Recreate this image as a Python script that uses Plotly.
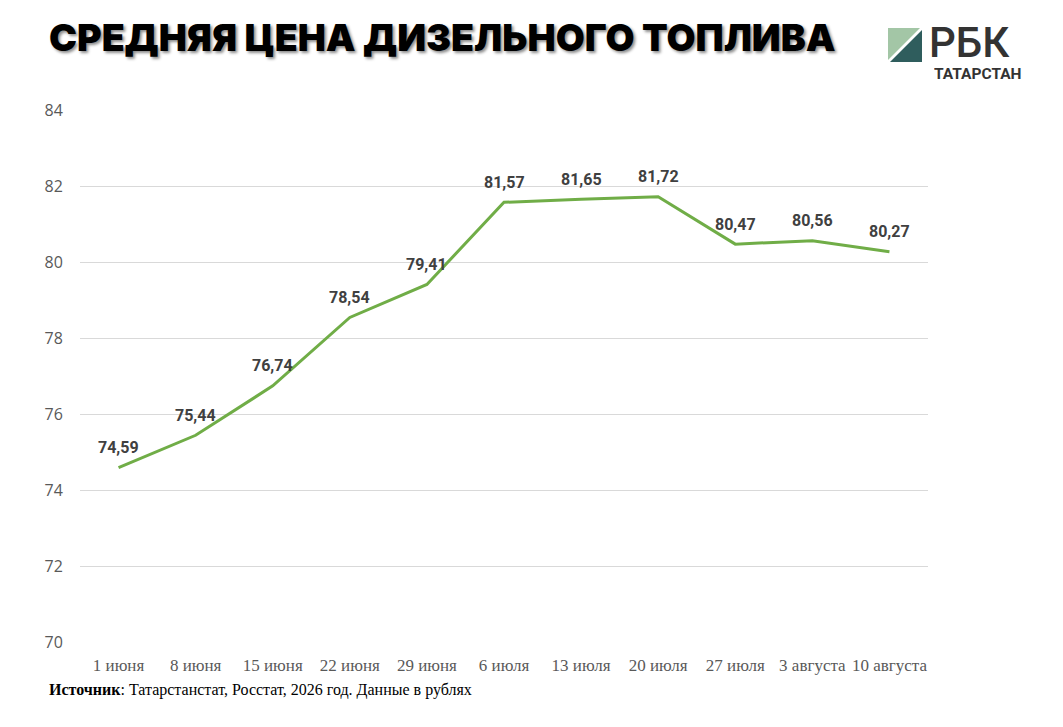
import plotly.graph_objects as go

# --- data ---
dates = ['1 июня', '8 июня', '15 июня', '22 июня', '29 июня', '6 июля',
         '13 июля', '20 июля', '27 июля', '3 августа', '10 августа']
prices = [74.59, 75.44, 76.74, 78.54, 79.41, 81.57,
          81.65, 81.72, 80.47, 80.56, 80.27]
y_ticks = [70, 72, 74, 76, 78, 80, 82, 84]

# the page puts the figure 8px in from the top-left corner
OFF = 8
W, H = 1063 - OFF, 727 - OFF
ML, MR, MT, MB = 80 - OFF, 135, 110 - OFF, 85


def px(x, y):
    """page pixel position -> paper coords"""
    x, y = x - OFF, y - OFF
    pw = W - ML - MR
    ph = H - MT - MB
    return (x - ML) / pw, (H - MB - y) / ph


labels = ['{:.2f}'.format(v).replace('.', ',') for v in prices]

fig = go.Figure(go.Scatter(
    x=dates, y=prices,
    mode='lines',
    line=dict(color='#70ad47', width=3),
    hoverinfo='skip',
))

for d, v, t in zip(dates, prices, labels):
    fig.add_annotation(
        x=d, y=v, text=t, showarrow=False, yshift=20,
        font=dict(family='Roboto', size=16, color='#404040', weight='bold'),
    )

fig.update_layout(
    width=W, height=H,
    margin=dict(l=ML, r=MR, t=MT, b=MB),
    paper_bgcolor='white',
    plot_bgcolor='white',
    showlegend=False,
)
fig.update_xaxes(
    type='category',
    range=[-0.5, len(dates) - 0.5],
    showgrid=False, showline=False, zeroline=False,
    ticks='outside', ticklen=8, tickcolor='rgba(0,0,0,0)',
    tickfont=dict(family='Liberation Serif', size=17, color='#595959'),
)
fig.update_yaxes(
    range=[70, 84],
    tickvals=y_ticks,
    showgrid=True, gridcolor='#d9d9d9', gridwidth=1,
    zeroline=False, showline=False,
    ticks='outside', ticklen=13, tickcolor='rgba(0,0,0,0)',
    tickfont=dict(family='Open Sans', size=16, color='#595959'),
)

# title with a soft shadow
sx, sy = px(47, 38)
fig.add_annotation(
    x=sx, y=sy, xref='paper', yref='paper',
    xanchor='left', yanchor='middle', showarrow=False,
    text='СРЕДНЯЯ ЦЕНА ДИЗЕЛЬНОГО ТОПЛИВА',
    font=dict(family='Inter', size=37.5, color='#000000', weight=900,
              shadow='2px 2px 3px rgba(0,0,0,0.45)'),
)

# source line
sx, sy = px(47, 690)
fig.add_annotation(
    x=sx, y=sy, xref='paper', yref='paper',
    xanchor='left', yanchor='middle', showarrow=False,
    text='<b>Источник</b>: Татарстанстат, Росстат, 2026 год. Данные в рублях',
    font=dict(family='Liberation Serif', size=16, color='#000000'),
)


# logo
def path(points):
    pts = [px(x, y) for x, y in points]
    return 'M ' + ' L '.join('{:.4f},{:.4f}'.format(a, b) for a, b in pts) + ' Z'


fig.add_shape(type='path', xref='paper', yref='paper',
              path=path([(888, 28), (920, 28), (888, 60)]),
              fillcolor='#a3c6a6', line=dict(width=0))
fig.add_shape(type='path', xref='paper', yref='paper',
              path=path([(890, 62), (922, 62), (922, 30)]),
              fillcolor='#2f5d5d', line=dict(width=0))
lx, ly = px(928, 42)
fig.add_annotation(
    x=lx, y=ly, xref='paper', yref='paper',
    xanchor='left', yanchor='middle', showarrow=False,
    text='РБК', borderpad=0, height=34,
    font=dict(family='Roboto', size=42, color='#333333', weight=500),
)
lx, ly = px(1023, 74)
fig.add_annotation(
    x=lx, y=ly, xref='paper', yref='paper',
    xanchor='right', yanchor='middle', showarrow=False,
    text='ТАТАРСТАН', borderpad=0, height=13,
    font=dict(family='Roboto', size=15.5, color='#333333', weight='bold'),
)

fig.write_html('out.html')
